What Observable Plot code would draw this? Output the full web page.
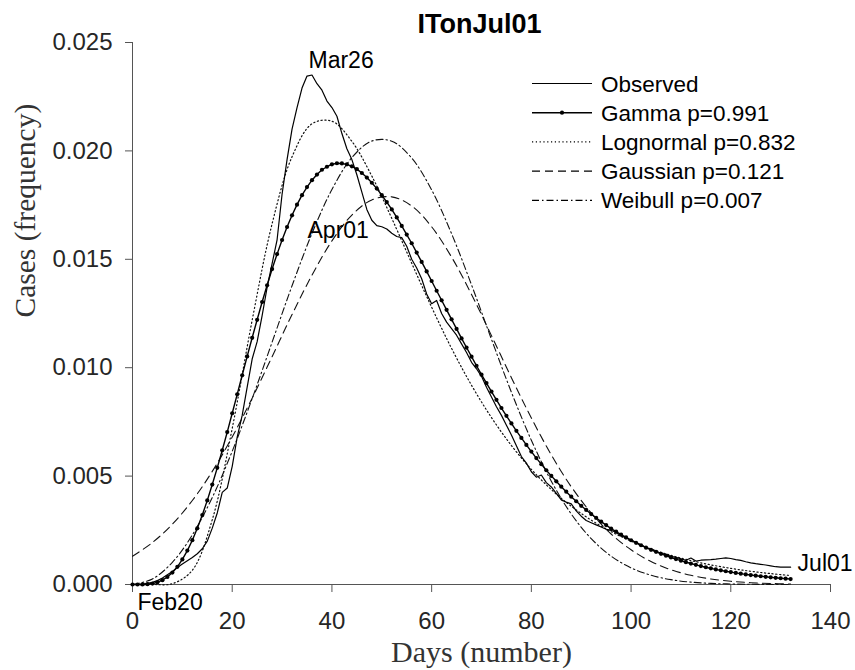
<!DOCTYPE html>
<html>
<head>
<meta charset="utf-8">
<script src="https://cdn.jsdelivr.net/npm/d3@7"></script>
<script src="https://cdn.jsdelivr.net/npm/@observablehq/plot@0.6"></script>
<style>
  html, body { margin: 0; padding: 0; background: #fff; }
  #wrap { position: relative; width: 855px; height: 670px; }
  #legend { position: absolute; left: 0; top: 0; pointer-events: none; }
</style>
</head>
<body>
<div id="wrap"></div>
<script>
// ---------- data ----------
const title = "ITonJul01";
const xLabel = "Days (number)";
const yLabel = "Cases (frequency)";
const xTicks = [0, 20, 40, 60, 80, 100, 120, 140];
const yTicks = [0, 0.005, 0.01, 0.015, 0.02, 0.025];

// daily days 0..132 (Feb20 .. Jul01)
const days = d3.range(0, 133);

const observed = [
  0, 0, 0.00002, 0.00005, 0.0001, 0.00018, 0.0003, 0.00045, 0.0006, 0.00078,
  0.00095, 0.0011, 0.00125, 0.00142, 0.00165, 0.002, 0.0026, 0.0033, 0.00425, 0.00445,
  0.00545, 0.0068, 0.0078, 0.0091, 0.0104, 0.0112, 0.0124, 0.0137, 0.0148, 0.0159,
  0.018, 0.0196, 0.021, 0.022, 0.0229, 0.02345, 0.0235, 0.0231, 0.0228, 0.0223,
  0.022, 0.0216, 0.0208, 0.0201, 0.0196, 0.0189, 0.0181, 0.0173, 0.0168, 0.01655,
  0.0165, 0.0164, 0.0162, 0.01605, 0.016, 0.0156, 0.015, 0.0146, 0.0141, 0.0134,
  0.01295, 0.0131, 0.0125, 0.0121, 0.0118, 0.0115, 0.0111, 0.0107, 0.01025, 0.00995,
  0.0096, 0.0091, 0.00865, 0.0082, 0.0078, 0.00735, 0.0069, 0.0064, 0.0059, 0.0056,
  0.0052, 0.00495, 0.00505, 0.0047, 0.0045, 0.0042, 0.0039, 0.0038, 0.00372, 0.0034,
  0.00315, 0.00295, 0.00285, 0.00275, 0.00265, 0.00255, 0.0025, 0.0024, 0.00225, 0.00215,
  0.00205, 0.00195, 0.00182, 0.00172, 0.00162, 0.00152, 0.00145, 0.00138, 0.0013, 0.00125,
  0.00118, 0.00112, 0.00122, 0.00108, 0.00112, 0.00114, 0.00115, 0.00117, 0.0012, 0.00123,
  0.0012, 0.00115, 0.00111, 0.00105, 0.001, 0.00096, 0.00093, 0.0009, 0.00086, 0.00082,
  0.0008, 0.0008, 0.0008
];

const gamma = [
  0, 0.0000002, 0.0000028, 0.0000142, 0.0000435, 0.0001013, 0.000199, 0.000345, 0.000549, 0.000817,
  0.001155, 0.001563, 0.002043, 0.00259, 0.003203, 0.00388, 0.00461, 0.00538, 0.00619, 0.00703,
  0.0079, 0.00877, 0.00965, 0.01052, 0.01138, 0.01221, 0.01303, 0.0138, 0.01455, 0.01524,
  0.01589, 0.01649, 0.01703, 0.01752, 0.01796, 0.01833, 0.01865, 0.01891, 0.01913, 0.01927,
  0.01938, 0.01943, 0.01942, 0.01938, 0.01929, 0.01916, 0.01898, 0.01877, 0.01853, 0.01826,
  0.01796, 0.01764, 0.0173, 0.01693, 0.01654, 0.01614, 0.01574, 0.01531, 0.01488, 0.01444,
  0.014, 0.01355, 0.01311, 0.01267, 0.01223, 0.01179, 0.01135, 0.01093, 0.01051, 0.01009,
  0.00968, 0.00929, 0.0089, 0.00852, 0.00814, 0.00778, 0.00743, 0.00709, 0.00676, 0.00644,
  0.00613, 0.00583, 0.00555, 0.00527, 0.00501, 0.00476, 0.00451, 0.00428, 0.00405, 0.00384,
  0.00363, 0.00344, 0.00325, 0.00307, 0.0029, 0.00274, 0.00258, 0.00244, 0.0023, 0.00217,
  0.00204, 0.00192, 0.00181, 0.0017, 0.0016, 0.001505, 0.001414, 0.001328, 0.001247, 0.001171,
  0.001099, 0.001031, 0.000967, 0.000906, 0.000849, 0.000795, 0.000745, 0.000697, 0.000653, 0.000611,
  0.000571, 0.000534, 0.000499, 0.000467, 0.000436, 0.000407, 0.00038, 0.000355, 0.000331, 0.000309,
  0.000288, 0.000269, 0.000251
];

// fitted curves read every 4 days (0..132)
const fitDays = [0, 4, 8, 12, 16, 20, 24, 28, 32, 36, 40, 44, 48, 52, 56, 60, 64, 68, 72, 76,
  80, 84, 88, 92, 96, 100, 104, 108, 112, 116, 120, 124, 128, 132];

const lognormal = [0, 0.00000004, 0.000038, 0.000659, 0.00299, 0.0072, 0.01219, 0.01664, 0.01973, 0.02125,
  0.02137, 0.02044, 0.01884, 0.01689, 0.01482, 0.01279, 0.01089, 0.00919, 0.0077, 0.00641,
  0.00531, 0.00438, 0.00361, 0.00297, 0.00244, 0.0020, 0.00164, 0.001345, 0.001104, 0.000905,
  0.000744, 0.000611, 0.000503, 0.000414];

const gaussian = [0.001305, 0.001937, 0.002783, 0.003874, 0.005216, 0.006804, 0.008594, 0.01051, 0.01245, 0.01427,
  0.01585, 0.01704, 0.01774, 0.01788, 0.01746, 0.0165, 0.0151, 0.01338, 0.01148, 0.00954,
  0.00768, 0.00598, 0.00451, 0.0033, 0.00233, 0.0016, 0.00106, 0.00068, 0.000423, 0.000255,
  0.000149, 0.000084, 0.000046, 0.000024];

const weibull = [0, 0.000256, 0.001023, 0.002287, 0.004015, 0.006146, 0.008576, 0.011177, 0.013779, 0.016193,
  0.01822, 0.01969, 0.020455, 0.02045, 0.01967, 0.0182, 0.01618, 0.01382, 0.01131, 0.008868,
  0.006654, 0.004767, 0.003254, 0.002117, 0.001308, 0.000767, 0.000426, 0.000223, 0.00011, 0.0000515,
  0.0000226, 0.0000094, 0.0000036, 0.0000013];

const seriesNames = ["Observed", "Gamma p=0.991", "Lognormal p=0.832", "Gaussian p=0.121", "Weibull p=0.007"];

const annLabels = ["Mar26", "Apr01", "Feb20", "Jul01"];
const annDays = [35.3, 35.1, 1.0, 133.4];
const annValues = [0.02417, 0.01633, -0.00083, 0.00097];

// ---------- build tables ----------
const obsData = days.map((d, i) => ({day: d, v: observed[i]}));
const gammaData = days.map((d, i) => ({day: d, v: gamma[i]}));
const logData = fitDays.map((d, i) => ({day: d, v: lognormal[i]}));
const gaussData = fitDays.map((d, i) => ({day: d, v: gaussian[i]}));
const weibData = fitDays.map((d, i) => ({day: d, v: weibull[i]}));
const annData = annLabels.map((t, i) => ({label: t, day: annDays[i], v: annValues[i]}));

const FONT = "'Liberation Sans', Arial, Helvetica, sans-serif";
const SERIF = "'Liberation Serif', 'Times New Roman', serif";
const AXIS = "#555";

const styles = {
  dotted: "1.2,2.6",
  dashed: "8,5",
  dashdot: "7,3,1.5,3"
};

const chart = Plot.plot({
  width: 855,
  height: 670,
  marginLeft: 132,
  marginRight: 25,
  marginTop: 42,
  marginBottom: 86,
  x: {domain: [0, 140]},
  y: {domain: [0, 0.025]},
  style: {fontFamily: FONT, color: "#262626", background: "white", overflow: "visible"},
  marks: [
    Plot.axisX({ticks: xTicks, tickSize: 8, tickPadding: 19, fontSize: 24, label: null, stroke: AXIS, fill: "#262626"}),
    Plot.axisY({ticks: yTicks, tickSize: 7, tickPadding: 13, fontSize: 24, label: null, tickFormat: d3.format(".3f"), stroke: AXIS, fill: "#262626"}),
    Plot.frame({anchor: "left", stroke: AXIS}),
    Plot.frame({anchor: "bottom", stroke: AXIS}),
    Plot.line(weibData, {x: "day", y: "v", curve: "catmull-rom", stroke: "#111", strokeWidth: 1.1, strokeDasharray: styles.dashdot}),
    Plot.line(gaussData, {x: "day", y: "v", curve: "catmull-rom", stroke: "#111", strokeWidth: 1.1, strokeDasharray: styles.dashed}),
    Plot.line(logData, {x: "day", y: "v", curve: "catmull-rom", stroke: "#111", strokeWidth: 1.2, strokeDasharray: styles.dotted}),
    Plot.line(obsData, {x: "day", y: "v", stroke: "#000", strokeWidth: 1.2}),
    Plot.line(gammaData, {x: "day", y: "v", stroke: "#000", strokeWidth: 1.4}),
    Plot.dot(gammaData, {x: "day", y: "v", r: 2.1, fill: "#000", stroke: "none"}),
    Plot.text(annData, {x: "day", y: "v", text: "label", textAnchor: "start", lineAnchor: "middle", fontSize: 23, fill: "#000"}),
    Plot.text([title], {frameAnchor: "top", lineAnchor: "bottom", dy: -10, dx: -2, fontSize: 27, fontWeight: "bold", fill: "#000"}),
    Plot.text([xLabel], {frameAnchor: "bottom", lineAnchor: "bottom", dy: 77, fontSize: 30, fontFamily: SERIF, fill: "#333"}),
    Plot.text([yLabel], {frameAnchor: "left", rotate: -90, lineAnchor: "bottom", dx: -98, dy: 4, fontSize: 29.5, fontFamily: SERIF, fill: "#333"})
  ]
});

const wrap = document.getElementById("wrap");
wrap.appendChild(chart);

// ---------- legend overlay ----------
const legendStyles = [
  {dash: null, dot: false},
  {dash: null, dot: true},
  {dash: styles.dotted, dot: false},
  {dash: styles.dashed, dot: false},
  {dash: styles.dashdot, dot: false}
];
const leg = d3.create("svg").attr("id", "legend").attr("width", 855).attr("height", 670);
const lx1 = 532, lx2 = 592, tx = 601, ty0 = 83.5, step = 29.2;
seriesNames.forEach((name, i) => {
  const y = ty0 + i * step;
  const s = legendStyles[i];
  const ln = leg.append("line").attr("x1", lx1).attr("x2", lx2).attr("y1", y).attr("y2", y)
    .attr("stroke", "#000").attr("stroke-width", i === 1 ? 1.4 : 1.2);
  if (s.dash) ln.attr("stroke-dasharray", s.dash);
  if (s.dot) leg.append("circle").attr("cx", (lx1 + lx2) / 2).attr("cy", y).attr("r", 2.1).attr("fill", "#000");
  leg.append("text").attr("x", tx).attr("y", y).attr("dy", "0.36em")
    .attr("font-family", FONT).attr("font-size", 22.5).attr("fill", "#000").text(name);
});
wrap.appendChild(leg.node());
</script>
</body>
</html>
